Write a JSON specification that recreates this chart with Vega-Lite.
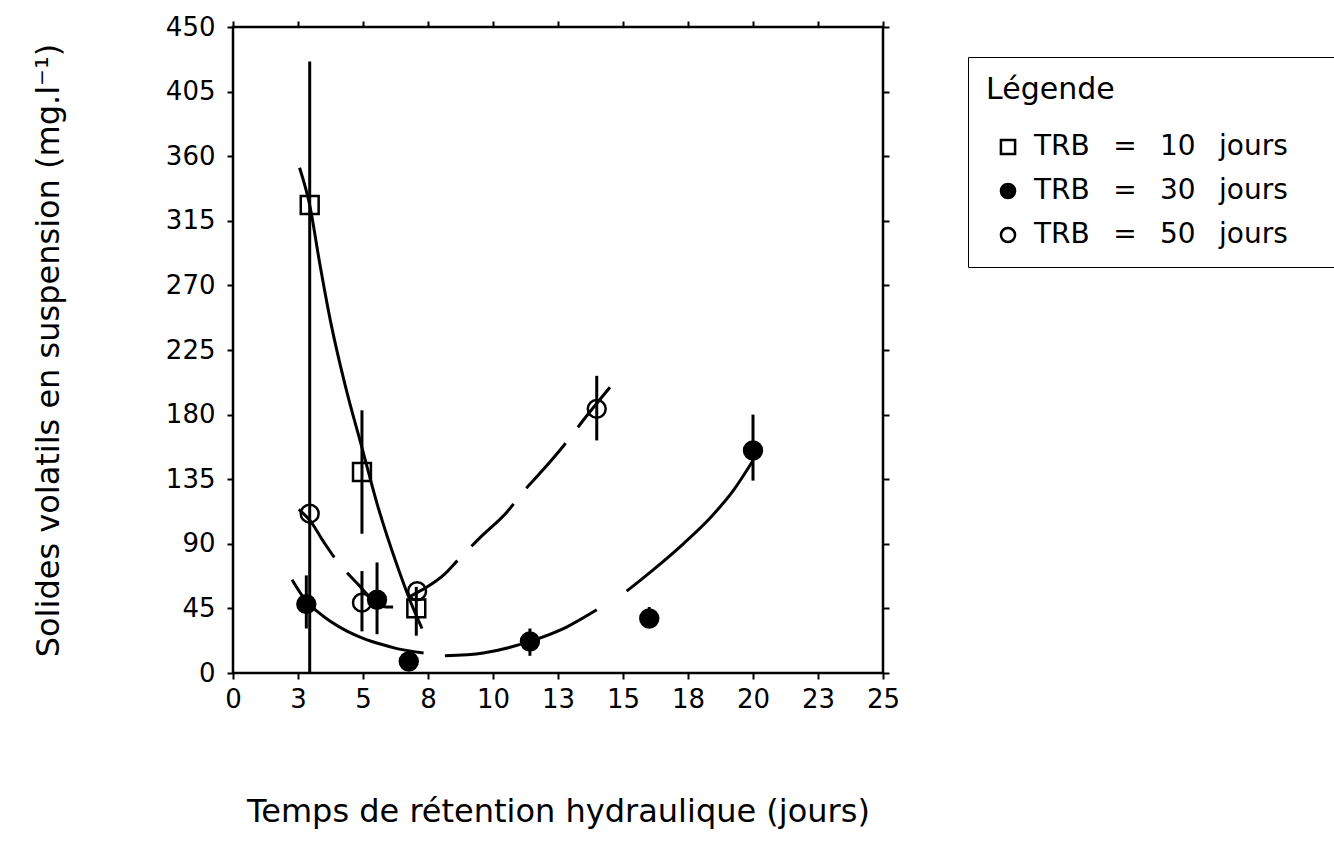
{
  "$schema": "https://vega.github.io/schema/vega-lite/v6.json",
  "width": 650,
  "height": 646,
  "autosize": {"type": "none"},
  "padding": {"left": 233, "top": 27, "right": 451, "bottom": 183},
  "background": "white",
  "config": {
    "font": "DejaVu Sans",
    "view": {"stroke": "black", "strokeWidth": 2.5}
  },
  "datasets": {
    "pts": [
      {"s": "A", "x": 2.95, "y": 326, "lo": 0, "hi": 426},
      {"s": "A", "x": 4.96, "y": 140, "lo": 97, "hi": 183},
      {"s": "A", "x": 7.05, "y": 45, "lo": 26, "hi": 60},
      {"s": "B", "x": 2.82, "y": 48, "lo": 31, "hi": 68},
      {"s": "B", "x": 5.54, "y": 51, "lo": 27, "hi": 77},
      {"s": "B", "x": 6.76, "y": 8},
      {"s": "B", "x": 11.42, "y": 22, "lo": 12, "hi": 31},
      {"s": "B", "x": 16.01, "y": 38, "lo": 36, "hi": 46},
      {"s": "B", "x": 20.0, "y": 155, "lo": 134, "hi": 180},
      {"s": "C", "x": 2.95, "y": 111},
      {"s": "C", "x": 4.96, "y": 49, "lo": 29, "hi": 71},
      {"s": "C", "x": 7.08, "y": 57},
      {"s": "C", "x": 13.99, "y": 184, "lo": 162, "hi": 207}
    ],
    "solid": [
      {"seg": "10a", "x": 2.56, "y": 352}, {"seg": "10a", "x": 2.95, "y": 326}, {"seg": "10a", "x": 3.33, "y": 286},
      {"seg": "10a", "x": 3.74, "y": 246}, {"seg": "10a", "x": 4.32, "y": 200}, {"seg": "10a", "x": 4.96, "y": 157},
      {"seg": "10a", "x": 5.54, "y": 118}, {"seg": "10a", "x": 6.31, "y": 75}, {"seg": "10a", "x": 6.82, "y": 50},
      {"seg": "10a", "x": 7.27, "y": 31},
      {"seg": "30a", "x": 2.27, "y": 65}, {"seg": "30a", "x": 2.82, "y": 50}, {"seg": "30a", "x": 3.3, "y": 42},
      {"seg": "30a", "x": 3.74, "y": 36}, {"seg": "30a", "x": 4.4, "y": 29}, {"seg": "30a", "x": 5.03, "y": 24},
      {"seg": "30a", "x": 5.7, "y": 20}, {"seg": "30a", "x": 6.31, "y": 17}, {"seg": "30a", "x": 7.33, "y": 14},
      {"seg": "30b", "x": 8.15, "y": 12}, {"seg": "30b", "x": 9.63, "y": 14}, {"seg": "30b", "x": 11.42, "y": 22},
      {"seg": "30b", "x": 12.83, "y": 32}, {"seg": "30b", "x": 13.99, "y": 44},
      {"seg": "30c", "x": 15.14, "y": 57}, {"seg": "30c", "x": 16.17, "y": 72}, {"seg": "30c", "x": 17.32, "y": 90},
      {"seg": "30c", "x": 18.35, "y": 108}, {"seg": "30c", "x": 19.24, "y": 127}, {"seg": "30c", "x": 20.0, "y": 148}
    ],
    "dashed": [
      {"x": 2.53, "y": 114}, {"x": 2.97, "y": 106}, {"x": 3.5, "y": 91}, {"x": 4.0, "y": 78}, {"x": 4.38, "y": 70},
      {"x": 4.8, "y": 62}, {"x": 5.15, "y": 55}, {"x": 5.54, "y": 48}, {"x": 5.9, "y": 46}, {"x": 6.18, "y": 46},
      {"x": 6.42, "y": 49}, {"x": 7.08, "y": 56}, {"x": 7.38, "y": 59}, {"x": 8.15, "y": 69}, {"x": 8.67, "y": 79},
      {"x": 9.6, "y": 96}, {"x": 10.53, "y": 112}, {"x": 11.1, "y": 125}, {"x": 11.9, "y": 141}, {"x": 12.7, "y": 158},
      {"x": 13.6, "y": 179}, {"x": 14.5, "y": 199}
    ]
  },
  "layer": [
    {
      "data": {"name": "solid"},
      "mark": {"type": "line", "color": "black", "strokeWidth": 3, "interpolate": "monotone", "clip": true},
      "encoding": {
        "x": {
          "field": "x", "type": "quantitative",
          "scale": {"domain": [0, 25], "nice": false, "zero": false},
          "axis": {
            "orient": "bottom",
            "values": [0, 2.5, 5, 7.5, 10, 12.5, 15, 17.5, 20, 22.5, 25],
            "format": ".0f",
            "title": "Temps de rétention hydraulique (jours)",
            "titleFontSize": 32, "titleFontWeight": "normal", "titleColor": "black",
            "titlePadding": 84,
            "labelFontSize": 26, "labelColor": "black", "labelPadding": 7,
            "labelFlush": false, "labelOverlap": false,
            "tickColor": "black", "tickSize": 6, "tickWidth": 2,
            "domain": false, "grid": false
          }
        },
        "y": {
          "field": "y", "type": "quantitative",
          "scale": {"domain": [0, 450], "nice": false, "zero": false},
          "axis": {
            "orient": "left",
            "values": [0, 45, 90, 135, 180, 225, 270, 315, 360, 405, 450],
            "title": "Solides volatils en suspension (mg.l⁻¹)",
            "titleFontSize": 32, "titleFontWeight": "normal", "titleColor": "black",
            "titlePadding": 100,
            "labelFontSize": 26, "labelColor": "black", "labelPadding": 12,
            "labelFlush": false, "labelOverlap": false,
            "tickColor": "black", "tickSize": 6, "tickWidth": 2,
            "domain": false, "grid": false
          }
        },
        "detail": {"field": "seg", "type": "nominal"}
      }
    },
    {
      "data": {"name": "dashed"},
      "mark": {"type": "line", "color": "black", "strokeWidth": 3, "interpolate": "monotone", "strokeDash": [60, 20], "clip": true},
      "encoding": {
        "x": {
          "field": "x", "type": "quantitative",
          "axis": {
            "orient": "top",
            "values": [0, 2.5, 5, 7.5, 10, 12.5, 15, 17.5, 20, 22.5, 25],
            "labels": false, "title": null,
            "tickColor": "black", "tickSize": 6, "tickWidth": 2,
            "domain": false, "grid": false
          }
        },
        "y": {
          "field": "y", "type": "quantitative",
          "axis": {
            "orient": "right",
            "values": [0, 45, 90, 135, 180, 225, 270, 315, 360, 405, 450],
            "labels": false, "title": null,
            "tickColor": "black", "tickSize": 6, "tickWidth": 2,
            "domain": false, "grid": false
          }
        }
      }
    },
    {
      "data": {"name": "pts"},
      "transform": [{"filter": "isValid(datum.lo)"}],
      "mark": {"type": "rule", "color": "black", "strokeWidth": 3},
      "encoding": {
        "x": {"field": "x", "type": "quantitative", "axis": null},
        "y": {"field": "lo", "type": "quantitative", "axis": null},
        "y2": {"field": "hi"}
      }
    },
    {
      "data": {"name": "pts"},
      "mark": {"type": "point", "filled": true, "strokeWidth": 2.5, "size": 320, "opacity": 1},
      "encoding": {
        "x": {"field": "x", "type": "quantitative", "axis": null},
        "y": {"field": "y", "type": "quantitative", "axis": null},
        "shape": {
          "field": "s", "type": "nominal",
          "scale": {"domain": ["A", "B", "C"], "range": ["square", "circle", "circle"]},
          "legend": {
            "title": "Légende",
            "labelExpr": "datum.value == 'A' ? 'TRB\u00a0\u00a0\u2009=\u00a0\u00a0\u200910\u00a0\u00a0\u2009jours\u00a0\u00a0\u2800' : datum.value == 'B' ? 'TRB\u00a0\u00a0\u2009=\u00a0\u00a0\u200930\u00a0\u00a0\u2009jours\u00a0\u00a0\u2800' : 'TRB\u00a0\u00a0\u2009=\u00a0\u00a0\u200950\u00a0\u00a0\u2009jours\u00a0\u00a0\u2800'",
            "orient": "none", "legendX": 735, "legendY": 30,
            "titleFontSize": 30, "titleFontWeight": "normal", "titleColor": "black", "titlePadding": 28,
            "labelFontSize": 28, "labelColor": "black", "labelOffset": 12, "labelLimit": 600,
            "symbolSize": 200, "symbolStrokeWidth": 2.5, "symbolOffset": 8,
            "rowPadding": 16, "padding": 18,
            "strokeColor": "black"
          }
        },
        "fill": {
          "field": "s", "type": "nominal",
          "scale": {"domain": ["A", "B", "C"], "range": ["transparent", "black", "transparent"]},
          "legend": {
            "title": "Légende",
            "labelExpr": "datum.value == 'A' ? 'TRB\u00a0\u00a0\u2009=\u00a0\u00a0\u200910\u00a0\u00a0\u2009jours\u00a0\u00a0\u2800' : datum.value == 'B' ? 'TRB\u00a0\u00a0\u2009=\u00a0\u00a0\u200930\u00a0\u00a0\u2009jours\u00a0\u00a0\u2800' : 'TRB\u00a0\u00a0\u2009=\u00a0\u00a0\u200950\u00a0\u00a0\u2009jours\u00a0\u00a0\u2800'",
            "orient": "none", "legendX": 735, "legendY": 30,
            "titleFontSize": 30, "titleFontWeight": "normal", "titleColor": "black", "titlePadding": 28,
            "labelFontSize": 28, "labelColor": "black", "labelOffset": 12, "labelLimit": 600,
            "symbolSize": 200, "symbolStrokeWidth": 2.5, "symbolOffset": 8,
            "rowPadding": 16, "padding": 18,
            "strokeColor": "black"
          }
        },
        "stroke": {
          "field": "s", "type": "nominal",
          "scale": {"domain": ["A", "B", "C"], "range": ["black", "black", "black"]},
          "legend": {
            "title": "Légende",
            "labelExpr": "datum.value == 'A' ? 'TRB\u00a0\u00a0\u2009=\u00a0\u00a0\u200910\u00a0\u00a0\u2009jours\u00a0\u00a0\u2800' : datum.value == 'B' ? 'TRB\u00a0\u00a0\u2009=\u00a0\u00a0\u200930\u00a0\u00a0\u2009jours\u00a0\u00a0\u2800' : 'TRB\u00a0\u00a0\u2009=\u00a0\u00a0\u200950\u00a0\u00a0\u2009jours\u00a0\u00a0\u2800'",
            "orient": "none", "legendX": 735, "legendY": 30,
            "titleFontSize": 30, "titleFontWeight": "normal", "titleColor": "black", "titlePadding": 28,
            "labelFontSize": 28, "labelColor": "black", "labelOffset": 12, "labelLimit": 600,
            "symbolSize": 200, "symbolStrokeWidth": 2.5, "symbolOffset": 8,
            "rowPadding": 16, "padding": 18,
            "strokeColor": "black"
          }
        }
      }
    }
  ],
  "resolve": {"axis": {"x": "independent", "y": "independent"}}
}
